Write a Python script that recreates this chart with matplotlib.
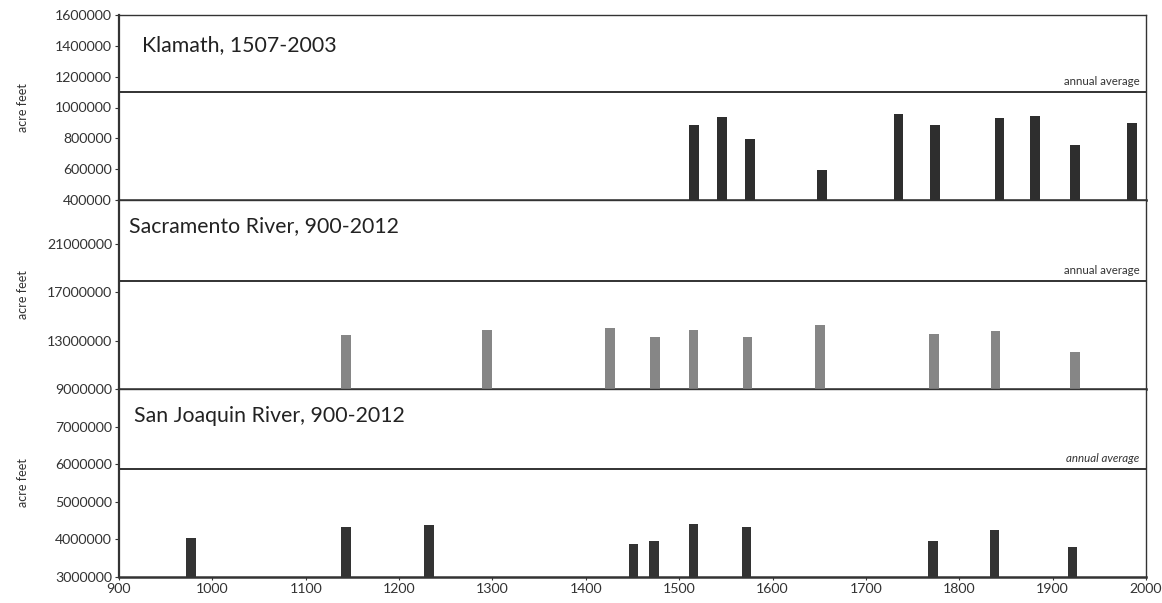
import matplotlib
matplotlib.use("Agg")
import matplotlib.pyplot as plt

plt.rcParams['font.family'] = ['Lato', 'DejaVu Sans']

# Klamath
klamath_years = [1516, 1546, 1576, 1653, 1735, 1774, 1843, 1881, 1924, 1985]
klamath_values = [887000, 939000, 796000, 595000, 958000, 887000, 932000, 945000, 757000, 900000]
klamath_avg = 1100000

# Sacramento
sac_years = [1143, 1294, 1426, 1474, 1515, 1573, 1651, 1773, 1839, 1924]
sac_values = [13450000, 13870000, 14030000, 13290000, 13870000, 13290000, 14280000, 13540000, 13780000, 12050000]
sac_avg = 17900000

# San Joaquin
sj_years = [977, 1143, 1232, 1451, 1473, 1515, 1572, 1772, 1838, 1921]
sj_values = [4030000, 4320000, 4390000, 3890000, 3970000, 4420000, 4320000, 3970000, 4240000, 3790000]
sj_avg = 5870000

titles = ["Klamath, 1507-2003", "Sacramento River, 900-2012", "San Joaquin River, 900-2012"]
x_ticks = list(range(900, 2001, 100))

W, H = 1162, 603
fig = plt.figure(figsize=(W / 100, H / 100), dpi=100)

left = 119 / W
width = (1146 - 119) / W

def make_ax(ytop, ybot):
    return fig.add_axes([left, 1 - ybot / H, width, (ybot - ytop) / H])

ax1 = make_ax(15, 200)
ax2 = make_ax(200, 389)
ax3 = make_ax(389, 577)

panels = [
    (ax1, klamath_years, klamath_values, klamath_avg, (400000, 1600000),
     [400000, 600000, 800000, 1000000, 1200000, 1400000, 1600000], '#2e2e2e', False, 0.022, 0.84),
    (ax2, sac_years, sac_values, sac_avg, (9000000, 24600000),
     [9000000, 13000000, 17000000, 21000000], '#868686', False, 0.01, 0.86),
    (ax3, sj_years, sj_values, sj_avg, (3000000, 8000000),
     [3000000, 4000000, 5000000, 6000000, 7000000], '#333333', True, 0.015, 0.856),
]

for i, (ax, yrs, vals, avg, ylim, yt, col, ital, tx, ty) in enumerate(panels):
    lo = ylim[0]
    ax.bar(yrs, [v - lo for v in vals], bottom=lo, width=10, color=col, zorder=3)
    ax.axhline(avg, color='#222222', lw=1.3, zorder=2)
    ax.set_xlim(900, 2000)
    ax.set_ylim(*ylim)
    ax.set_yticks(yt)
    ax.set_yticklabels([str(v) for v in yt], fontsize=10.2, color='#333333')
    ax.tick_params(axis='y', length=3, width=0.8, pad=2, colors='#333333')
    ax.set_ylabel("acre feet", fontsize=9, color='#333333')
    ax.yaxis.set_label_coords(-0.088, 0.5)
    for s in ax.spines.values():
        s.set_color('#333333')
        s.set_linewidth(1.0)
    ax.spines['left'].set_linewidth(1.6)
    ax.spines['bottom'].set_linewidth(1.8)
    ax.text(tx, ty, titles[i], transform=ax.transAxes, fontsize=15.3, color='#222222',
            ha='left', va='center')
    ax.annotate("annual average", xy=(1993, avg), xytext=(0, 4), textcoords='offset points',
                fontsize=8.3, color='#333333', ha='right', va='bottom',
                style='italic' if ital else 'normal')
    ax.set_xticks(x_ticks)
    if i < 2:
        ax.tick_params(axis='x', length=0, labelbottom=False)
    else:
        ax.set_xticklabels([str(x) for x in x_ticks], fontsize=10.2, color='#333333')
        ax.tick_params(axis='x', length=2, pad=2, colors='#333333')

fig.savefig("out.png", dpi=100, facecolor='white')
